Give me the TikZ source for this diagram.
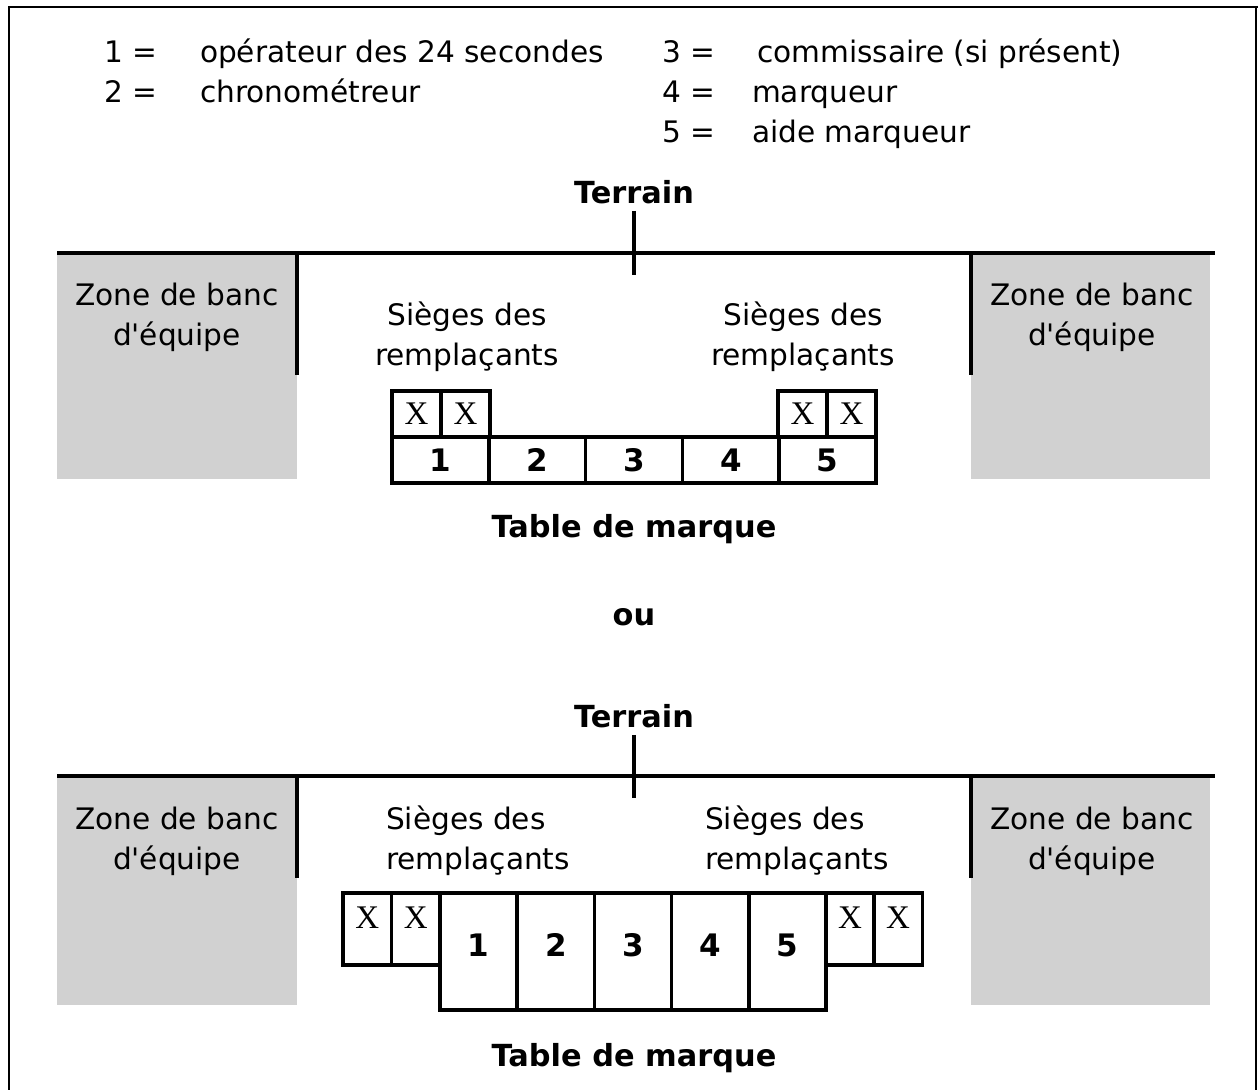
\documentclass[tikz,border=0pt]{standalone}
\usepackage{fontspec}
\setmainfont{DejaVu Sans}
\newfontfamily\xfont{Liberation Serif}
\usetikzlibrary{positioning}

\begin{document}
\begin{tikzpicture}[x=0.5pt, y=-0.5pt, font=\fontsize{14.8}{20}\selectfont]
    \tikzset{%
      bench/.style={fill=black!18, draw=none},
      wall/.style={line width=1.75pt},
      cell/.style={draw, line width=1.75pt, inner sep=0pt, outer sep=0pt, font=\fontsize{15.5}{18}\selectfont\bfseries},
      xcell/.style={cell, font=\fontsize{16.5}{18}\selectfont\xfont},
      xa/.style={xcell, minimum width=24.5pt, minimum height=23pt},
      na/.style={cell, minimum width=48.4pt, minimum height=23pt},
      xb/.style={xcell, minimum width=24.25pt, minimum height=36pt, text depth=11pt},
      nb/.style={cell, minimum width=38.6pt, minimum height=58.5pt, text depth=6.5pt},
      titel/.style={font=\fontsize{15.2}{18}\selectfont\bfseries},
      zone/.style={align=center}
      }
    \useasboundingbox (0,0) rectangle (1258,1090);
    % cadre
    \draw [line width=1pt] (9,1090) -- (9,7) -- (1258,7);
    \draw [line width=1pt] (1256,7) -- (1256,1090);

    % legende
    \node [anchor=base west] (L1) at (97,63) {1 =};
    \node [anchor=base west] (L1t) at (193,63) {opérateur des 24 secondes};
    \node [anchor=base west] (L2) at (97,103) {2 =};
    \node [anchor=base west] (L2t) at (193,103) {chronométreur};
    \node [anchor=base west] (L3) at (655,63) {3 =};
    \node [anchor=base west] (L3t) at (750,63) {commissaire (si présent)};
    \node [anchor=base west] (L4) at (655,103) {4 =};
    \node [anchor=base west] (L4t) at (745,103) {marqueur};
    \node [anchor=base west] (L5) at (655,143) {5 =};
    \node [anchor=base west] (L5t) at (745,143) {aide marqueur};

    % premier schema
    \node [titel] (T1) at (634,192) {Terrain};
    \fill [bench] (57,253) rectangle (297,479);
    \fill [bench] (971,253) rectangle (1210,479);
    \draw [wall] (57,253) -- (1215,253);
    \draw [wall] (T1.south) -- (634,275);
    \draw [wall] (297,253) -- (297,375);
    \draw [wall] (971,253) -- (971,375);
    \node [zone] (Zl1) at (177,317) {Zone de banc\\d\textquotesingle équipe};
    \node [zone] (Zr1) at (1092,317) {Zone de banc\\d\textquotesingle équipe};
    \node [zone] (Sl1) at (467,337) {Sièges des\\remplaçants};
    \node [zone] (Sr1) at (803,337) {Sièges des\\remplaçants};

    \node [xa] (A1x1) at (416.5,414) {X};
    \node [xa] (A1x2) at (465.5,414) {X};
    \node [xa] (A1x3) at (802.5,414) {X};
    \node [xa] (A1x4) at (851.5,414) {X};
    \node [na] (A1n1) at (440.4,460) {1};
    \node [na] (A1n2) at (537.2,460) {2};
    \node [na] (A1n3) at (634,460) {3};
    \node [na] (A1n4) at (730.8,460) {4};
    \node [na] (A1n5) at (827.6,460) {5};
    \node [titel, anchor=base] (M1) at (634,538) {Table de marque};

    \node [titel, anchor=base] (Ou) at (634,625) {ou};

    % second schema
    \node [titel] (T2) at (634,716) {Terrain};
    \fill [bench] (57,776) rectangle (297,1005);
    \fill [bench] (971,776) rectangle (1210,1005);
    \draw [wall] (57,776) -- (1215,776);
    \draw [wall] (T2.south) -- (634,798);
    \draw [wall] (297,776) -- (297,878);
    \draw [wall] (971,776) -- (971,878);
    \node [zone] (Zl2) at (177,841) {Zone de banc\\d\textquotesingle équipe};
    \node [zone] (Zr2) at (1092,841) {Zone de banc\\d\textquotesingle équipe};
    \node [align=left] (Sl2) at (478,841) {Sièges des\\remplaçants};
    \node [align=left] (Sr2) at (797,841) {Sièges des\\remplaçants};

    \node [xb] (B1x1) at (367.25,929) {X};
    \node [xb] (B1x2) at (415.75,929) {X};
    \node [xb] (B1x3) at (850,929) {X};
    \node [xb] (B1x4) at (898,929) {X};
    \node [nb] (B1n1) at (478.6,951.5) {1};
    \node [nb] (B1n2) at (555.8,951.5) {2};
    \node [nb] (B1n3) at (633,951.5) {3};
    \node [nb] (B1n4) at (710.2,951.5) {4};
    \node [nb] (B1n5) at (787.4,951.5) {5};
    \node [titel, anchor=base] (M2) at (634,1066) {Table de marque};
\end{tikzpicture}
\end{document}
